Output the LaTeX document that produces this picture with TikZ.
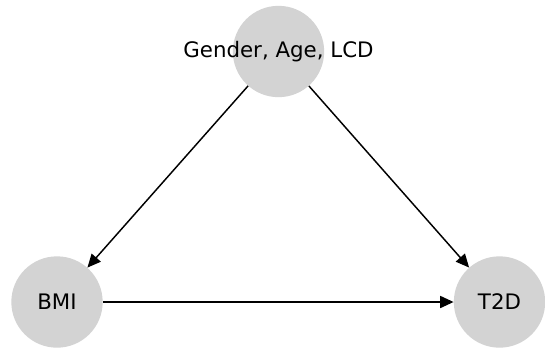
\documentclass[tikz,border=0pt]{standalone}
\usepackage{fontspec}
\setmainfont{DejaVu Sans}
\usetikzlibrary{arrows.meta}
\begin{document}
\begin{tikzpicture}[x=0.75pt,y=-0.75pt,
  vnode/.style={circle,fill={rgb,255:red,211;green,211;blue,211},draw=none,minimum size=68.5pt,inner sep=0pt},
  lbl/.style={font=\fontsize{16pt}{19pt}\selectfont},
  edge/.style={line width=1.1pt,-{Triangle[length=10pt,width=9pt]}}]
\useasboundingbox (0,0) rectangle (545,351);
\fill[white] (0,0) rectangle (545,351);
\node[vnode] (c) at (278.5,51.5) {};
\node[vnode] (b) at (57,302) {};
\node[vnode] (t) at (499.5,302) {};
\node[lbl] (cl) at (278.5,51.5) {Gender, Age, LCD};
\node[lbl] (bl) at (57,302) {BMI};
\node[lbl] (tl) at (499.5,302) {T2D};
\draw[edge] (c) -- (b);
\draw[edge] (c) -- (t);
\draw[edge] (b) -- (t);
\end{tikzpicture}
\end{document}
